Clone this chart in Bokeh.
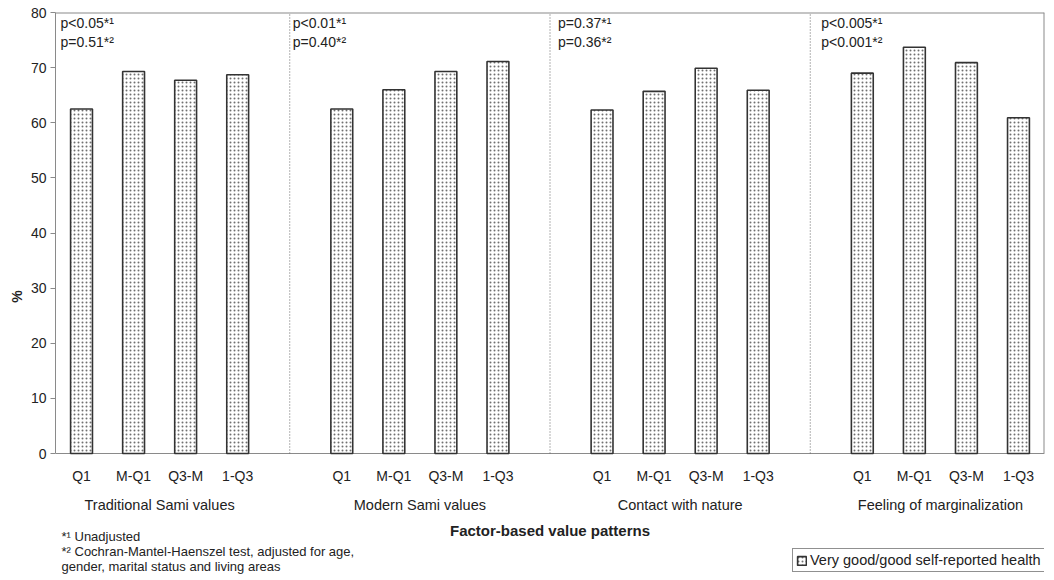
from bokeh.plotting import figure
from bokeh.models import FactorRange, Range1d, Label, Legend, LegendItem, ColumnDataSource, FixedTicker
from bokeh.core.properties import value
from bokeh.embed import file_html
from bokeh.resources import INLINE

# ---------------- data ----------------
groups = ["Traditional Sami values", "Modern Sami values",
          "Contact with nature", "Feeling of marginalization"]
quartiles = ["Q1", "M-Q1", "Q3-M", "1-Q3"]
traditional = [62.5, 69.3, 67.7, 68.7]
modern = [62.5, 66.0, 69.3, 71.1]
nature = [62.3, 65.7, 69.9, 65.9]
marginal = [69.0, 73.7, 70.9, 60.9]
p_unadjusted = ["p<0.05*¹", "p<0.01*¹", "p=0.37*¹", "p<0.005*¹"]
p_adjusted = ["p=0.51*²", "p=0.40*²", "p=0.36*²", "p<0.001*²"]
y_ticks = [0, 10, 20, 30, 40, 50, 60, 70, 80]
y_max = 80
series_label = "Very good/good self-reported health"
x_title = "Factor-based value patterns"
y_title = "%"
footnotes = ["*¹ Unadjusted",
             "*² Cochran-Mantel-Haenszel test, adjusted for age,",
             "gender, marital status and living areas"]

# ---------------- style / geometry ----------------
FONT = "Liberation Sans"
TXT = "#222222"
AX = "#8a8a8a"
W, H = 1054, 580
LEFT, RIGHT, TOP = 55, 10, 12
AXIS_PX = 441            # pixel height of the 0..80 value axis
BELOW_PX = H - TOP - AXIS_PX   # room under the value axis (inside the frame)

series = [traditional, modern, nature, marginal]
xs, tops, qlab = [], [], []
for g, vals in zip(groups, series):
    for q, v in zip(quartiles, vals):
        xs.append((g, q))
        tops.append(v)
        qlab.append(q)
src = ColumnDataSource(dict(x=xs, top=tops, q=qlab))

GP = 1.0
n_per = len(quartiles)
step = n_per + GP
total = len(groups) * n_per + (len(groups) - 1) * GP

x_range = FactorRange(*xs, group_padding=GP, range_padding=0)
y_range = Range1d(-y_max * BELOW_PX / AXIS_PX, y_max)
p = figure(width=W, height=H, x_range=x_range, y_range=y_range,
           output_backend="svg", toolbar_location=None, x_axis_location=None,
           min_border_left=LEFT, min_border_right=RIGHT, min_border_top=TOP, min_border_bottom=0)

p.xgrid.visible = False
p.ygrid.visible = False
p.outline_line_color = None
p.background_fill_color = "white"
p.border_fill_color = "white"

# plot-area border (top, right) and base line
p.segment(x0=[0, total], y0=[y_max, 0], x1=[total, total], y1=[y_max, y_max],
          line_color=AX, line_width=2)
p.segment(x0=[0], y0=[0], x1=[total], y1=[0], line_color=AX, line_width=1)

# dotted separators at gap centres
seps = [k * step - GP / 2 for k in range(1, len(groups))]
p.segment(x0=seps, y0=[0] * len(seps), x1=seps, y1=[y_max] * len(seps),
          line_color="#666666", line_width=1, line_dash="1 2")

bars = p.vbar(x="x", top="top", width=0.42, source=src,
              fill_color="white", line_color="#333333", line_width=1.6,
              hatch_pattern="dot", hatch_color="#707070", hatch_scale=4, hatch_weight=1)

# quartile labels under the base line
p.text(x="x", y=0, text="q", source=src, y_offset=22,
       text_font=value(FONT), text_font_size="14px", text_color=TXT,
       text_align="center", text_baseline="middle")

# y axis
ya = p.yaxis[0]
ya.bounds = (0, y_max)
ya.ticker = FixedTicker(ticks=y_ticks)
ya.minor_tick_line_color = None
ya.major_tick_in = 0
ya.major_tick_out = 5
ya.major_tick_line_color = AX
ya.axis_line_color = AX
ya.major_label_text_font = FONT
ya.major_label_text_font_size = "14px"
ya.major_label_text_color = TXT
ya.major_label_standoff = 4
ya.axis_label = y_title
ya.axis_label_text_font = FONT
ya.axis_label_text_font_style = "bold"
ya.axis_label_text_font_size = "14px"
ya.axis_label_text_color = TXT
ya.axis_label_standoff = 3

# p-value annotations
p_x_offsets = [5, 3, 8, 11]
for k in range(len(groups)):
    left = 0 if k == 0 else k * step - GP / 2
    for txt, off in ((p_unadjusted[k], -10), (p_adjusted[k], -29)):
        p.add_layout(Label(x=left, y=y_max, x_offset=p_x_offsets[k], y_offset=off, text=txt,
                           text_font=FONT, text_font_size="14px", text_color=TXT,
                           text_align="left", text_baseline="middle"))

# group names under the quartile labels
for k, g in enumerate(groups):
    p.add_layout(Label(x=k * step + n_per / 2, y=0, y_offset=-51, text=g, text_font=FONT,
                       text_font_size="14.5px", text_color=TXT,
                       text_align="center", text_baseline="middle"))

# x title
p.add_layout(Label(x=total / 2, y=0, y_offset=-77, text=x_title, text_font=FONT,
                   text_font_size="15px", text_font_style="bold", text_color=TXT,
                   text_align="center", text_baseline="middle"))

# footnotes
for i, f in enumerate(footnotes):
    p.add_layout(Label(x=0, y=0, x_offset=6, y_offset=-83 - 15 * i, text=f, text_font=FONT,
                       text_font_size="13px", text_color=TXT,
                       text_align="left", text_baseline="middle"))

legend = Legend(items=[LegendItem(label=series_label, renderers=[bars])],
                location=(737, 8), orientation="vertical",
                border_line_color="#222222", border_line_width=1,
                background_fill_color="white", background_fill_alpha=1,
                padding=3, margin=0, spacing=0,
                glyph_width=11, glyph_height=11, label_standoff=3,
                label_text_font=FONT, label_text_font_size="14.5px", label_text_color=TXT,
                label_height=14)
p.add_layout(legend, "center")

open("out.html", "w").write(file_html(p, INLINE))
